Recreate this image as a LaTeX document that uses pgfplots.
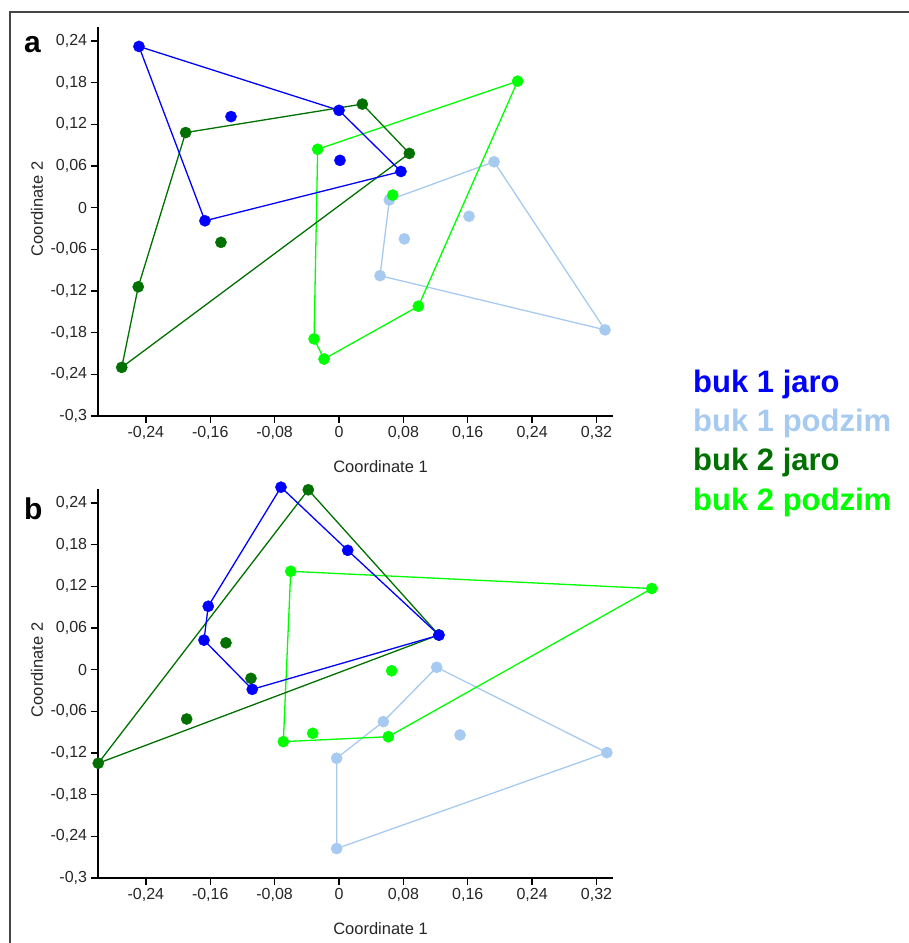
\documentclass[border=0pt]{standalone}
\usepackage{fontspec}
\setmainfont{Liberation Sans}
\usepackage{pgfplots}
\pgfplotsset{compat=1.18}
\definecolor{cBlue}{RGB}{0,0,255}
\definecolor{cLBlue}{RGB}{166,202,240}
\definecolor{cDGreen}{RGB}{0,112,0}
\definecolor{cGreen}{RGB}{0,255,0}
\definecolor{cFrame}{RGB}{70,70,70}
\pgfplotsset{
  panel/.style={
    scale only axis, width=515pt, height=389pt,
    xmin=-0.3, xmax=0.34, ymin=-0.3, ymax=0.26,
    axis x line*=bottom, axis y line*=left,
    axis line style={line width=1.8pt, black},
    tick align=outside, major tick length=7pt,
    every tick/.style={line width=1.4pt, black},
    xtick={-0.24,-0.16,-0.08,0,0.08,0.16,0.24,0.32},
    ytick={-0.3,-0.24,-0.18,-0.12,-0.06,0,0.06,0.12,0.18,0.24},
    /pgf/number format/.cd, use comma, fixed, precision=2, assume math mode=true, /pgfplots/.cd,
    ticklabel style={font=\fontsize{16}{18}\selectfont, text=black!85},
    clip=false,
  },
  hull/.style={no marks, line width=1.3pt},
  pts/.style={only marks, mark=*, mark size=5.6pt},
}
\begin{document}
\begin{tikzpicture}[x=1pt,y=1pt]
\useasboundingbox (0,0) rectangle (909,943);
\draw[cFrame, line width=2.6pt] (10,0) -- (10,931) -- (912,931);

% ---------------- panel a ----------------
\begin{axis}[panel, at={(97.6pt,527pt)}, anchor=south west]
% hulls
\addplot[hull, cLBlue] coordinates {(0.0625,0.011) (0.1927,0.066) (0.3306,-0.176) (0.051,-0.098) (0.0625,0.011)};
\addplot[hull, cGreen] coordinates {(-0.0265,0.084) (0.222,0.182) (0.0986,-0.142) (-0.0186,-0.218) (-0.031,-0.189) (-0.0265,0.084)};
\addplot[hull, cDGreen] coordinates {(-0.1906,0.108) (0.029,0.149) (0.0874,0.078) (-0.270,-0.230) (-0.2495,-0.114) (-0.1906,0.108)};
\addplot[hull, cBlue] coordinates {(-0.2486,0.232) (0.000,0.140) (0.077,0.052) (-0.1666,-0.019) (-0.2486,0.232)};
% points
\addplot[pts, cLBlue] coordinates {(0.0625,0.011) (0.1927,0.066) (0.3306,-0.176) (0.051,-0.098) (0.0812,-0.045) (0.1616,-0.0125)};
\addplot[pts, cGreen] coordinates {(-0.0265,0.084) (0.222,0.182) (0.0986,-0.142) (-0.0186,-0.218) (-0.031,-0.189) (0.0667,0.018)};
\addplot[pts, cDGreen] coordinates {(-0.1906,0.108) (0.029,0.149) (0.0874,0.078) (-0.1467,-0.050) (-0.2495,-0.114) (-0.270,-0.230)};
\addplot[pts, cBlue] coordinates {(-0.2486,0.232) (-0.1342,0.131) (0.000,0.140) (0.0012,0.068) (0.077,0.052) (-0.1666,-0.019)};
\end{axis}

% ---------------- panel b ----------------
\begin{axis}[panel, at={(97.6pt,65pt)}, anchor=south west]
\addplot[hull, cLBlue] coordinates {(0.1214,0.0033) (0.3328,-0.1195) (-0.0029,-0.2576) (-0.0029,-0.1276) (0.0551,-0.0749) (0.1214,0.0033)};
\addplot[hull, cGreen] coordinates {(-0.060,0.1415) (0.3887,0.1167) (0.0613,-0.0966) (-0.0692,-0.1037) (-0.060,0.1415)};
\addplot[hull, cDGreen] coordinates {(-0.0382,0.2589) (0.124,0.050) (-0.2992,-0.1348) (-0.0382,0.2589)};
\addplot[hull, cBlue] coordinates {(-0.0721,0.2626) (0.0108,0.1717) (0.1243,0.0496) (-0.1078,-0.0284) (-0.1678,0.0424) (-0.1625,0.0912) (-0.0721,0.2626)};
\addplot[pts, cLBlue] coordinates {(0.1214,0.0033) (0.3328,-0.1195) (-0.0029,-0.2576) (-0.0029,-0.1276) (0.0551,-0.0749) (0.1504,-0.0941)};
\addplot[pts, cGreen] coordinates {(-0.060,0.1415) (0.3887,0.1167) (0.0613,-0.0966) (-0.0692,-0.1037) (-0.0327,-0.0917) (0.0655,-0.0017)};
\addplot[pts, cDGreen] coordinates {(-0.0382,0.2589) (0.124,0.050) (-0.2992,-0.1348) (-0.1893,-0.0711) (-0.1405,0.0385) (-0.1094,-0.0126)};
\addplot[pts, cBlue] coordinates {(-0.0721,0.2626) (0.0108,0.1717) (0.1243,0.0496) (-0.1078,-0.0284) (-0.1678,0.0424) (-0.1625,0.0912)};
\end{axis}

% axis titles
\node[font=\fontsize{16.5}{19}\selectfont, text=black!85] at (380.5,476) {Coordinate 1};
\node[font=\fontsize{16.5}{19}\selectfont, text=black!85] at (380.5,14) {Coordinate 1};
\node[font=\fontsize{16.5}{19}\selectfont, text=black!85, rotate=90] at (37,734) {Coordinate 2};
\node[font=\fontsize{16.5}{19}\selectfont, text=black!85, rotate=90] at (37,273) {Coordinate 2};
% panel letters
\node[font=\fontsize{30}{34}\selectfont\bfseries, anchor=base west, inner sep=0pt] at (24,890) {a};
\node[font=\fontsize{30}{34}\selectfont\bfseries, anchor=base west, inner sep=0pt] at (24,423) {b};
% legend
\begin{scope}[every node/.style={font=\fontsize{31}{36}\selectfont\bfseries, anchor=base west, inner sep=0pt}]
\node[text=cBlue] at (693,550) {buk 1 jaro};
\node[text=cLBlue] at (693,511) {buk 1 podzim};
\node[text=cDGreen] at (693,472) {buk 2 jaro};
\node[text=cGreen] at (693,432) {buk 2 podzim};
\end{scope}
\end{tikzpicture}
\end{document}
